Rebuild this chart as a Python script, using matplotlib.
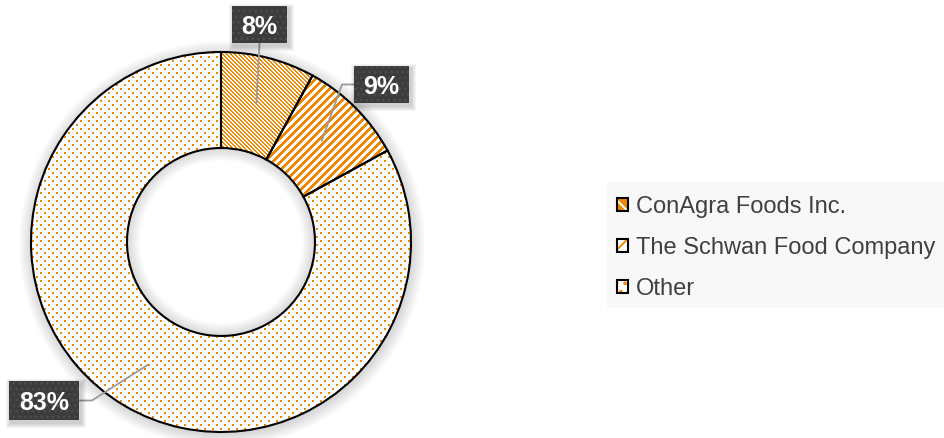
import matplotlib
matplotlib.use('Agg')
import matplotlib.pyplot as plt
from matplotlib.patches import Rectangle, Wedge, Patch
from matplotlib.legend_handler import HandlerTuple
import numpy as np

# ---- data ----
categories = ['ConAgra Foods Inc.', 'The Schwan Food Company', 'Other']
shares = [8, 9, 83]
value_labels = ['8%', '9%', '83%']

W, H = 945, 438
plt.rcParams['font.family'] = ['Liberation Sans', 'DejaVu Sans']
plt.rcParams['hatch.linewidth'] = 1.4

fig = plt.figure(figsize=(W / 100, H / 100), dpi=100)
ax = fig.add_axes([0, 0, 1, 1])


def Y(y):
    return H - y


ORANGE = '#EE8800'
ORANGE_RGB = np.array([0xEE, 0x88, 0x00]) / 255.0
cx, cy = 221, Y(242)
R, r_in = 190, 94

# ---- fill patterns (pixel textures, y downwards) ----
yy, xx = np.mgrid[0:H, 0:W]
patterns = [
    ((xx - yy) % 4) < 2,                                   # thin downward diagonal
    ((xx + yy) % 8) < 4,                                   # wide upward diagonal
    (((yy % 8) < 2) & ((xx % 8) < 2)) |
    ((((yy - 4) % 8) < 2) & (((xx - 4) % 8) < 2)),          # 10 % dots
]

# soft shadow outside the donut
for k in range(1, 14):
    ax.add_patch(Wedge((cx + 1, cy - 2), R + k, 0, 360, width=k + 2,
                       facecolor='black', edgecolor='none', alpha=0.011, zorder=0))

wedges_f, _ = ax.pie(shares, radius=R, center=(cx, cy), startangle=90,
                     counterclock=False,
                     wedgeprops=dict(width=R - r_in, facecolor='white',
                                     edgecolor='none', linewidth=0))
for w, pat in zip(wedges_f, patterns):
    w.set_zorder(1)
    rgba = np.zeros((H, W, 4))
    rgba[..., :3] = ORANGE_RGB
    rgba[..., 3] = pat.astype(float)
    im = ax.imshow(rgba, extent=(0, W, 0, H), origin='upper',
                   interpolation='nearest', zorder=1.2)
    im.set_clip_path(w)

# inner shadow in the hole
for k in range(1, 14):
    ax.add_patch(Wedge((cx, cy), r_in, 0, 360, width=k,
                       facecolor='black', edgecolor='none', alpha=0.010, zorder=1.5))

wedges_o, _ = ax.pie(shares, radius=R, center=(cx, cy), startangle=90,
                     counterclock=False,
                     wedgeprops=dict(width=R - r_in, fill=False,
                                     edgecolor='black', linewidth=1.5))
for w in wedges_o:
    w.set_zorder(2)

# ---- leader lines and value boxes ----
cum = np.cumsum([0] + shares[:-1])
mid = np.deg2rad(90 - 360 * (cum + np.array(shares) / 2) / 100)
rm = (R + r_in) / 2
ax_pts = cx + rm * np.cos(mid)
ay_pts = cy + rm * np.sin(mid)

# box: (left, top, width, height) in pixels ; elbow point ; box attach point
boxes = [(232, 6, 55, 37), (354, 66, 55, 37), (9, 381, 70, 39)]
elbows = [None, (342, 84.5), (92, 400.5)]
attach = [(259.5, 43), (354, 84.5), (79, 400.5)]

for i, lab in enumerate(value_labels):
    xs = [ax_pts[i]]
    ys = [ay_pts[i]]
    if elbows[i] is not None:
        xs.append(elbows[i][0]); ys.append(Y(elbows[i][1]))
    xs.append(attach[i][0]); ys.append(Y(attach[i][1]))
    ax.plot(xs, ys, color='#9a9a9a', lw=1.3, zorder=3, solid_capstyle='butt')

    l, t, bw, bh = boxes[i]
    for k in range(1, 6):
        ax.add_patch(Rectangle((l + 2 - k, Y(t + bh) - 3 - k), bw + 2 * k, bh + 2 * k,
                               facecolor='black', edgecolor='none', alpha=0.04, zorder=3.5))
    box = Rectangle((l, Y(t + bh)), bw, bh, facecolor='#3c3c3c', edgecolor='#4e4e4e',
                    linewidth=0, hatch='...', zorder=4)
    if hasattr(box, 'set_hatch_linewidth'):
        box.set_hatch_linewidth(1.0)
    ax.add_patch(box)
    ax.text(l + bw / 2, Y(t + bh / 2), lab, ha='center', va='center_baseline',
            fontsize=18, fontweight='bold', color='white', zorder=5)

# ---- legend ----
ax.add_patch(Rectangle((607, Y(308)), W - 607, 308 - 182, facecolor='#f8f8f8',
                       edgecolor='none', zorder=0))
leg_fill = [Patch(facecolor=ORANGE, edgecolor='white', hatch='\\\\', linewidth=0),
            Patch(facecolor='white', edgecolor=ORANGE, hatch='/', linewidth=0),
            Patch(facecolor='white', edgecolor=ORANGE, hatch='..', linewidth=0)]
leg_edge = [Patch(fill=False, edgecolor='black', linewidth=1.5) for _ in categories]
handles = list(zip(leg_fill, leg_edge))
fs = 17
px_per_fs = fs * 100 / 72
leg = ax.legend(handles, categories, handler_map={tuple: HandlerTuple(ndivide=1, pad=0)},
                loc='center left', bbox_to_anchor=(617, Y(248)),
                bbox_transform=ax.transData, frameon=False, fontsize=fs,
                borderaxespad=0, borderpad=0,
                handlelength=11 / px_per_fs, handleheight=11 / px_per_fs,
                handletextpad=8 / px_per_fs, labelspacing=0.8, labelcolor='#404040')

ax.set_xlim(0, W)
ax.set_ylim(0, H)
ax.set_aspect('equal')
ax.axis('off')

fig.savefig('out.png', dpi=100)
